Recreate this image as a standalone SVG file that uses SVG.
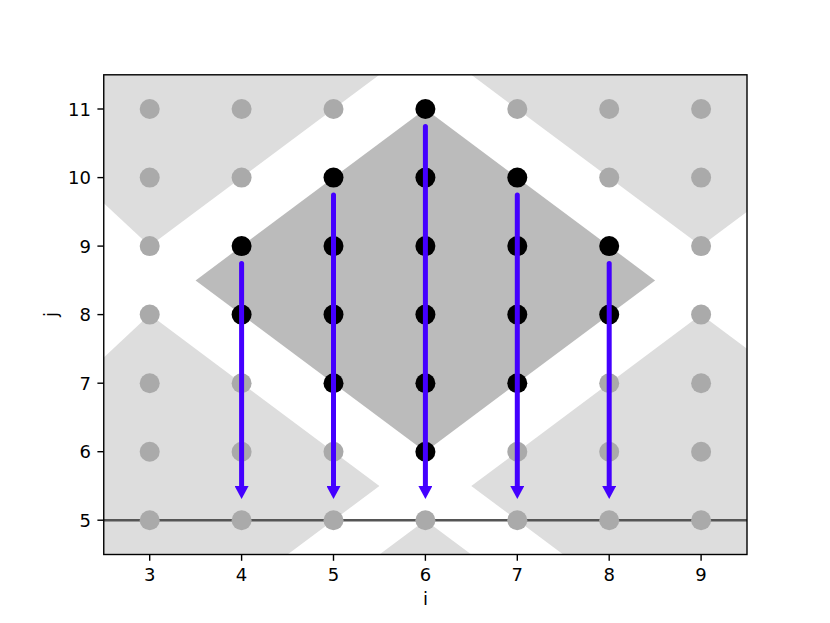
<svg xmlns="http://www.w3.org/2000/svg" width="830" height="623" viewBox="0 0 830 623">
  <style>
    .light { fill: #dddddd; }
    .dark { fill: #bbbbbb; }
    .g { fill: #aaaaaa; }
    .b { fill: #000000; }
    .arrow { stroke: #4400ff; stroke-width: 5; stroke-linecap: round; fill: none; }
    .tick { stroke: #000000; stroke-width: 1.4; }
    .lbl { font-family: "DejaVu Sans", sans-serif; font-size: 18px; fill: #000000; }
  </style>
  <defs>
    <clipPath id="axclip">
      <rect x="103.75" y="74.8" width="643.25" height="479.7"/>
    </clipPath>
    <marker id="head" viewBox="0 0 13 14" refX="0" refY="7" markerWidth="13" markerHeight="14" markerUnits="userSpaceOnUse" orient="auto">
      <path d="M0,0 L13,7 L0,14 Z" fill="#4400ff"/>
    </marker>
  </defs>
  <rect width="830" height="623" fill="#ffffff"/>
  <g id="regions" clip-path="url(#axclip)">
    <polygon class="light" points="149.7,-96.3 379.4,74.8 149.7,246.1 -34.1,74.8"/>
    <polygon class="light" points="701.1,-96.3 930.8,74.8 701.1,246.1 471.3,74.8"/>
    <polygon class="light" points="149.7,314.6 379.4,486.0 149.7,657.3 -34.1,486.0"/>
    <polygon class="light" points="701.1,314.6 930.8,486.0 701.1,657.3 471.3,486.0"/>
    <polygon class="light" points="425.4,520.2 655.1,691.6 425.4,863 195.6,691.6"/>
    <polygon class="dark" points="425.4,109.0 655.1,280.4 425.4,451.7 195.6,280.4"/>
    <line x1="103.75" y1="520.2" x2="747" y2="520.2" stroke="#555555" stroke-width="2.6"/>
  </g>
  <g id="points">
    <g id="row11">
      <circle class="g" cx="149.7" cy="109.0" r="10"/><circle class="g" cx="241.6" cy="109.0" r="10"/><circle class="g" cx="333.5" cy="109.0" r="10"/><circle class="b" cx="425.4" cy="109.0" r="10"/><circle class="g" cx="517.3" cy="109.0" r="10"/><circle class="g" cx="609.2" cy="109.0" r="10"/><circle class="g" cx="701.1" cy="109.0" r="10"/>
    </g>
    <g id="row10">
      <circle class="g" cx="149.7" cy="177.6" r="10"/><circle class="g" cx="241.6" cy="177.6" r="10"/><circle class="b" cx="333.5" cy="177.6" r="10"/><circle class="b" cx="425.4" cy="177.6" r="10"/><circle class="b" cx="517.3" cy="177.6" r="10"/><circle class="g" cx="609.2" cy="177.6" r="10"/><circle class="g" cx="701.1" cy="177.6" r="10"/>
    </g>
    <g id="row9">
      <circle class="g" cx="149.7" cy="246.1" r="10"/><circle class="b" cx="241.6" cy="246.1" r="10"/><circle class="b" cx="333.5" cy="246.1" r="10"/><circle class="b" cx="425.4" cy="246.1" r="10"/><circle class="b" cx="517.3" cy="246.1" r="10"/><circle class="b" cx="609.2" cy="246.1" r="10"/><circle class="g" cx="701.1" cy="246.1" r="10"/>
    </g>
    <g id="row8">
      <circle class="g" cx="149.7" cy="314.6" r="10"/><circle class="b" cx="241.6" cy="314.6" r="10"/><circle class="b" cx="333.5" cy="314.6" r="10"/><circle class="b" cx="425.4" cy="314.6" r="10"/><circle class="b" cx="517.3" cy="314.6" r="10"/><circle class="b" cx="609.2" cy="314.6" r="10"/><circle class="g" cx="701.1" cy="314.6" r="10"/>
    </g>
    <g id="row7">
      <circle class="g" cx="149.7" cy="383.2" r="10"/><circle class="g" cx="241.6" cy="383.2" r="10"/><circle class="b" cx="333.5" cy="383.2" r="10"/><circle class="b" cx="425.4" cy="383.2" r="10"/><circle class="b" cx="517.3" cy="383.2" r="10"/><circle class="g" cx="609.2" cy="383.2" r="10"/><circle class="g" cx="701.1" cy="383.2" r="10"/>
    </g>
    <g id="row6">
      <circle class="g" cx="149.7" cy="451.7" r="10"/><circle class="g" cx="241.6" cy="451.7" r="10"/><circle class="g" cx="333.5" cy="451.7" r="10"/><circle class="b" cx="425.4" cy="451.7" r="10"/><circle class="g" cx="517.3" cy="451.7" r="10"/><circle class="g" cx="609.2" cy="451.7" r="10"/><circle class="g" cx="701.1" cy="451.7" r="10"/>
    </g>
    <g id="row5">
      <circle class="g" cx="149.7" cy="520.2" r="10"/><circle class="g" cx="241.6" cy="520.2" r="10"/><circle class="g" cx="333.5" cy="520.2" r="10"/><circle class="g" cx="425.4" cy="520.2" r="10"/><circle class="g" cx="517.3" cy="520.2" r="10"/><circle class="g" cx="609.2" cy="520.2" r="10"/><circle class="g" cx="701.1" cy="520.2" r="10"/>
    </g>
  </g>
  <g id="connectors">
    <line class="arrow" x1="241.6" y1="263.5" x2="241.6" y2="486" marker-end="url(#head)"/>
    <line class="arrow" x1="333.5" y1="195" x2="333.5" y2="486" marker-end="url(#head)"/>
    <line class="arrow" x1="425.4" y1="126.5" x2="425.4" y2="486" marker-end="url(#head)"/>
    <line class="arrow" x1="517.3" y1="195" x2="517.3" y2="486" marker-end="url(#head)"/>
    <line class="arrow" x1="609.2" y1="263.5" x2="609.2" y2="486" marker-end="url(#head)"/>
  </g>
  <g id="axes">
    <rect x="103.75" y="74.8" width="643.25" height="479.7" fill="none" stroke="#000000" stroke-width="1.4"/>
    <g class="tick">
      <line x1="149.7" y1="554.5" x2="149.7" y2="560.8"/>
      <line x1="241.6" y1="554.5" x2="241.6" y2="560.8"/>
      <line x1="333.5" y1="554.5" x2="333.5" y2="560.8"/>
      <line x1="425.4" y1="554.5" x2="425.4" y2="560.8"/>
      <line x1="517.3" y1="554.5" x2="517.3" y2="560.8"/>
      <line x1="609.2" y1="554.5" x2="609.2" y2="560.8"/>
      <line x1="701.1" y1="554.5" x2="701.1" y2="560.8"/>
      <line x1="97.4" y1="109.0" x2="103.75" y2="109.0"/>
      <line x1="97.4" y1="177.6" x2="103.75" y2="177.6"/>
      <line x1="97.4" y1="246.1" x2="103.75" y2="246.1"/>
      <line x1="97.4" y1="314.6" x2="103.75" y2="314.6"/>
      <line x1="97.4" y1="383.2" x2="103.75" y2="383.2"/>
      <line x1="97.4" y1="451.7" x2="103.75" y2="451.7"/>
      <line x1="97.4" y1="520.2" x2="103.75" y2="520.2"/>
    </g>
    <g class="lbl" text-anchor="middle">
      <text x="149.7" y="581">3</text>
      <text x="241.6" y="581">4</text>
      <text x="333.5" y="581">5</text>
      <text x="425.4" y="581">6</text>
      <text x="517.3" y="581">7</text>
      <text x="609.2" y="581">8</text>
      <text x="701.1" y="581">9</text>
      <text x="425.4" y="605">i</text>
    </g>
    <g class="lbl" text-anchor="end">
      <text x="91" y="115.6">11</text>
      <text x="91" y="184.2">10</text>
      <text x="91" y="252.7">9</text>
      <text x="91" y="321.2">8</text>
      <text x="91" y="389.8">7</text>
      <text x="91" y="458.3">6</text>
      <text x="91" y="526.8">5</text>
    </g>
    <text class="lbl" x="57" y="314.6" text-anchor="middle" transform="rotate(-90 57 314.6)">j</text>
  </g>
</svg>
